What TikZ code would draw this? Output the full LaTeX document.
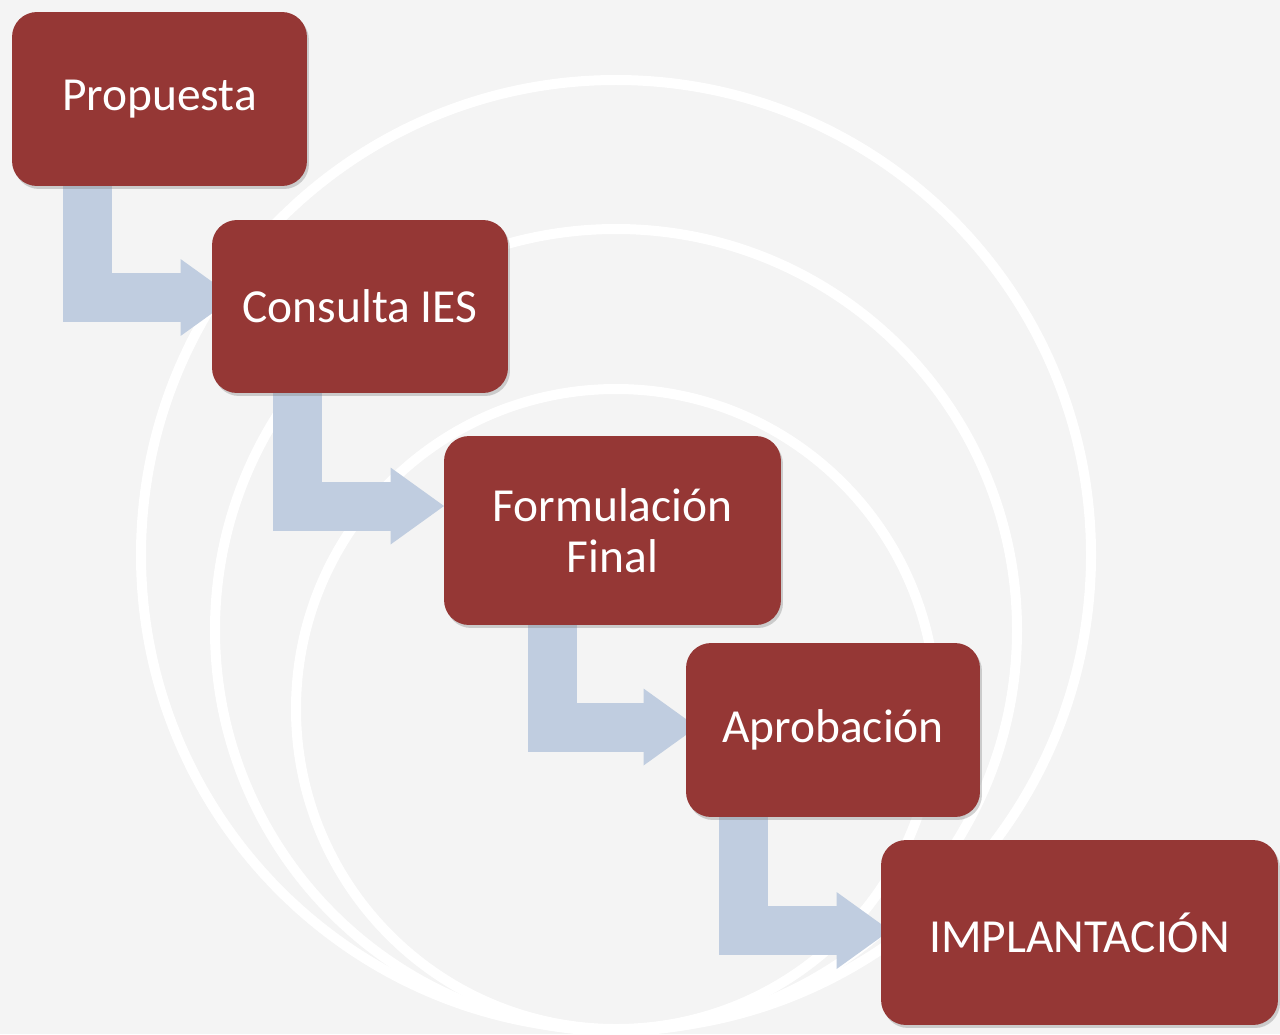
\documentclass[tikz,border=0pt]{standalone}
\usepackage{fontspec}
\setmainfont{Carlito}
\usepackage{tikz}
\usetikzlibrary{arrows.meta,positioning,shadows,backgrounds}
\definecolor{boxred}{RGB}{149,55,53}
\definecolor{flowblue}{RGB}{192,205,224}
\definecolor{paper}{RGB}{244,244,244}
\tikzset{stage/.style={draw=none, fill=boxred, rectangle, rounded corners=0.5cm,
		outer sep=0pt, text=white, align=center, font=\fontsize{27}{29}\selectfont,
		drop shadow={shadow xshift=0.04cm, shadow yshift=-0.06cm, opacity=0.35}},
	flow/.style={draw=flowblue, line width=0.98cm,
		-{Triangle[length=1.07cm, width=1.54cm, line width=0pt]}},
	ring/.style={draw=white, line width=0.2cm}}

\begin{document}
\begin{tikzpicture}[x=0.02cm,y=-0.02cm]
		\useasboundingbox (0,0) rectangle (1280,1034);
		
		\node [stage, minimum width=5.9cm, minimum height=3.48cm] (propuesta) at (159.5,99) {Propuesta};
		\node [stage, minimum width=5.92cm, minimum height=3.46cm] (consulta) at (360,306.5) {Consulta IES};
		\node [stage, minimum width=6.74cm, minimum height=3.78cm] (formulacion) at (612.5,530.5) {Formulación\\Final};
		\node [stage, minimum width=5.88cm, minimum height=3.48cm] (aprobacion) at (833,730) {Aprobación};
		\node [stage, minimum width=7.94cm, minimum height=3.7cm] (implantacion) at (1079.5,932.5) {IMPLANTACIÓN};
		
		\begin{scope}[on background layer]
		\fill [paper] (0,0) rectangle (1280,1034);
		\draw [ring] (616,555) circle [radius=475];
		\draw [ring] (616,630) circle [radius=401];
		\draw [ring] (616,709) circle [radius=320];
		
		\draw [flow] ([xshift=1.51cm]propuesta.south west) |- ([xshift=0.44cm,yshift=0.18cm]consulta.west);
		\draw [flow] ([xshift=1.7cm]consulta.south west) |- ([yshift=0.49cm]formulacion.west);
		\draw [flow] ([xshift=2.16cm]formulacion.south west) |- ([xshift=0.22cm,yshift=0.06cm]aprobacion.west);
		\draw [flow] ([xshift=1.15cm]aprobacion.south west) |- ([xshift=0.18cm,yshift=0.04cm]implantacion.west);
		\end{scope}
	\end{tikzpicture}
\end{document}
